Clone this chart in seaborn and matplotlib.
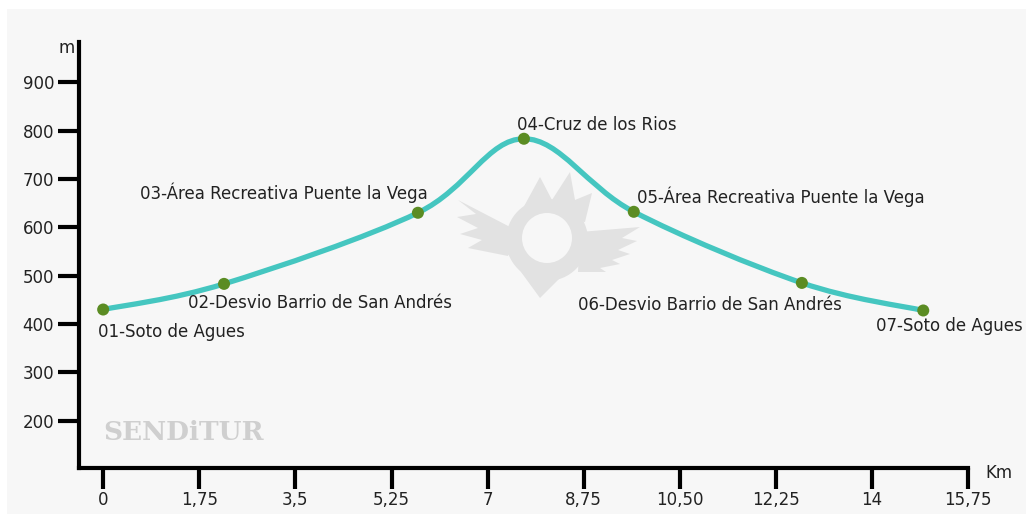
import matplotlib
matplotlib.use('Agg')
import matplotlib.pyplot as plt
import matplotlib.transforms as mtransforms
from matplotlib.path import Path
from matplotlib.patches import PathPatch, Polygon, Circle, Rectangle
import pandas as pd
import seaborn as sns

# elevation profile
km = [0, 2.2, 5.73, 7.66, 9.66, 12.72, 14.93]
altitude = [430, 483, 630, 783, 632, 485, 428]
names = ['01-Soto de Agues',
         '02-Desvio Barrio de San Andrés',
         '03-Área Recreativa Puente la Vega',
         '04-Cruz de los Rios',
         '05-Área Recreativa Puente la Vega',
         '06-Desvio Barrio de San Andrés',
         '07-Soto de Agues']

x_ticks = [0, 1.75, 3.5, 5.25, 7, 8.75, 10.5, 12.25, 14, 15.75]
x_tick_labels = ['0', '1,75', '3,5', '5,25', '7', '8,75', '10,50', '12,25', '14', '15,75']
y_ticks = [200, 300, 400, 500, 600, 700, 800, 900]

# label placement (pixel offsets from the point, alignment)
label_offsets = [(-5, -22, 'left'), (-36, -19, 'left'), (10, 20, 'right'),
                 (-7, 14, 'left'), (3, 15, 'left'), (40, -22, 'right'),
                 (99, -16, 'right')]

W, H = 1026, 514
BG = '#f7f7f7'
LINE = '#45c6c0'
DOT = '#5b8c23'
TXT = '#222222'

sns.set_style('white')
plt.rcParams['font.family'] = ['DejaVu Sans']

fig = plt.figure(figsize=(W / 100, H / 100), dpi=100, facecolor='white')
px = mtransforms.Affine2D().scale(1 / W, -1 / H).translate(0, 1) + fig.transFigure

fig.patches.append(Rectangle((7, 9), W, H, transform=px, facecolor=BG,
                             edgecolor='none', zorder=-5))

ax = fig.add_axes([79 / W, 1 - 467.7 / H, (968.3 - 79) / W, (467.7 - 42) / H])
ax.set_facecolor('none')

# watermark logo (decoration in pixel coords)
logo = '#e2e2e2'
ax.add_patch(Polygon([(505, 250), (540, 298), (588, 250)], closed=True,
                     transform=px, facecolor=logo, edgecolor='none', zorder=1))
ax.add_patch(Polygon([(512, 228), (458, 200), (476, 214), (457, 217), (478, 228),
                      (460, 234), (482, 240), (468, 248), (508, 256)], closed=True,
                     transform=px, facecolor=logo, edgecolor='none', zorder=1))
ax.add_patch(Polygon([(580, 232), (640, 227), (622, 238), (637, 241), (618, 250),
                      (630, 254), (612, 260), (620, 264), (600, 268), (606, 272),
                      (578, 272)], closed=True,
                     transform=px, facecolor=logo, edgecolor='none', zorder=1))
ax.add_patch(Polygon([(522, 210), (540, 177), (552, 200), (570, 172), (575, 200),
                      (592, 193), (585, 222)], closed=True,
                     transform=px, facecolor=logo, edgecolor='none', zorder=1))
ax.add_patch(Circle((547, 240), 41, transform=px, facecolor=logo,
                    edgecolor='none', zorder=1))
ax.add_patch(Circle((547, 238), 25, transform=px, facecolor=BG,
                    edgecolor='none', zorder=1))

# smooth profile line through the points (cardinal spline as bezier path)
pts = list(zip(km, altitude))
verts = [pts[0]]
codes = [Path.MOVETO]
for i in range(len(pts) - 1):
    p0 = pts[max(i - 1, 0)]
    p1 = pts[i]
    p2 = pts[i + 1]
    p3 = pts[min(i + 2, len(pts) - 1)]
    c1 = (p1[0] + (p2[0] - p0[0]) / 6, p1[1] + (p2[1] - p0[1]) / 6)
    c2 = (p2[0] - (p3[0] - p1[0]) / 6, p2[1] - (p3[1] - p1[1]) / 6)
    verts += [c1, c2, p2]
    codes += [Path.CURVE4] * 3
ax.add_patch(PathPatch(Path(verts, codes), facecolor='none', edgecolor=LINE,
                       lw=3.8, capstyle='round', zorder=3))

df = pd.DataFrame({'km': km, 'm': altitude})
sns.scatterplot(data=df, x='km', y='m', ax=ax, s=75, color=DOT,
                edgecolor='none', zorder=4, legend=False)

for (x, y, name), (dx, dy, ha) in zip(zip(km, altitude, names), label_offsets):
    ax.annotate(name, (x, y), xytext=(dx, dy), textcoords='offset pixels',
                ha=ha, va='center', fontsize=12, color=TXT, zorder=5)

ax.set_xlim(-0.44, 15.75)
ax.set_ylim(103, 983)
ax.set_xticks(x_ticks)
ax.set_xticklabels(x_tick_labels)
ax.set_yticks(y_ticks)
ax.set_yticklabels([str(v) for v in y_ticks])
ax.set_xlabel('')
ax.set_ylabel('')

for side in ['top', 'right']:
    ax.spines[side].set_visible(False)
for side in ['left', 'bottom']:
    ax.spines[side].set_color('black')
    ax.spines[side].set_linewidth(3)
ax.tick_params(axis='both', direction='out', length=15, width=3, color='black',
               labelsize=12, labelcolor=TXT, bottom=True, left=True)
ax.tick_params(axis='x', pad=2)
ax.tick_params(axis='y', pad=3)

fig.text(985 / W, 1 - 473 / H, 'Km', ha='left', va='center', fontsize=12, color=TXT)
fig.text(75 / W, 1 - 48 / H, 'm', ha='right', va='center', fontsize=12, color=TXT)
fig.text(103 / W, 1 - 432 / H, 'SENDiTUR', ha='left', va='center', fontsize=19,
         fontweight='bold', family='DejaVu Serif', color='#cfcfcf')

fig.savefig('out.png', dpi=100, facecolor=fig.get_facecolor())
